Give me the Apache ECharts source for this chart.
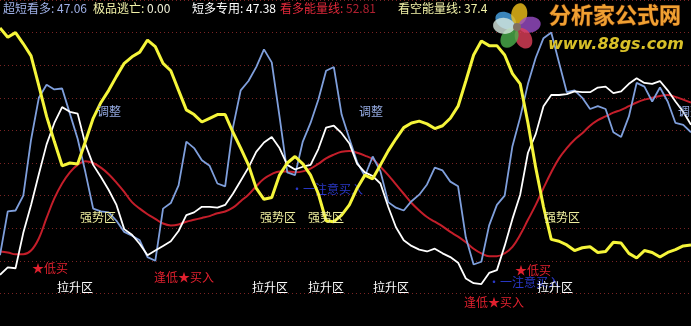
<!DOCTYPE html>
<html>
<head>
<meta charset="utf-8">
<script src="https://cdn.jsdelivr.net/npm/echarts@6/dist/echarts.min.js"></script>
<style>
html,body{margin:0;padding:0;background:#000;}
#c{width:691px;height:326px;}
</style>
</head>
<body>
<div id="c"></div>
<script>
// x categories (bars)
const categories = Array.from({length: 90}, (_, i) => String(i + 1));

// 看空能量线 (yellow)
const yellowLine = [320,310,315,303,290,258,225,198,172,175,174,198,223,240,253,268,282,289,294,307,300,282,274,253,232,227,219,223,227,227,208,191,173,148,136,138,162,175,182,174,162,142,113,112,119,130,148,162,158,173,188,201,213,218,220,217,212,215,223,236,263,291,306,301,301,291,271,260,218,170,128,93,91,87,81,84,85,79,80,90,89,78,73,81,79,74,79,82,86,87];

// 短多专用 (white)
const whiteLine = [55,63,62,100,130,163,195,218,235,230,228,195,173,160,146,130,104,98,88,76,81,86,91,102,119,122,128,128,127,130,142,156,170,187,197,203,191,173,168,171,173,190,213,215,207,196,174,165,161,153,128,106,92,86,82,80,83,78,74,68,51,46,45,57,60,86,115,141,186,206,236,248,248,249,252,251,251,256,257,250,252,260,266,261,260,263,253,241,230,216];

// 超短看多 (light blue)
const blueLine = [76,123,124,140,200,245,259,254,255,228,201,165,126,123,122,113,101,97,92,74,70,126,132,151,198,191,178,172,153,150,213,253,263,278,297,283,225,165,162,198,218,243,274,278,227,201,176,161,182,166,133,127,124,134,141,152,170,167,155,150,95,66,69,108,130,140,193,224,260,288,309,315,283,251,253,245,233,236,233,208,203,225,261,257,241,256,241,218,216,208];

// 看多能量线 (red)
const redLine = [80,79,77,77,81,94,116,137,153,165,173,177,175,170,163,154,144,133,126,120,115,110,108,109,112,114,116,118,121,123,127,134,141,150,158,163,166,166,165,166,169,174,180,184,187,188,186,183,179,171,162,152,142,132,124,117,112,107,101,96,90,83,78,75,75,78,85,98,114,130,148,165,180,191,200,207,215,221,225,229,232,236,240,243,245,247,248,246,243,240];

// header texts
const legendItems = [
  {label: '超短看多', value: '47.06'},
  {label: '极品逃亡', value: '0.00'},
  {label: '短多专用', value: '47.38'},
  {label: '看多能量线', value: '52.81'},
  {label: '看空能量线', value: '37.4'}
];

const chart = echarts.init(document.getElementById('c'), null, {renderer: 'canvas'});
const FONT = '"Noto Sans CJK SC", "Noto Sans", sans-serif';

function txt(x, y, text, color, extra) {
  return {
    type: 'text', x: x, y: y, z: 50,
    style: Object.assign({text: text, fill: color, font: '12px ' + FONT, textVerticalAlign: 'middle'}, extra || {})
  };
}

const legendX = [3, 93, 192, 280, 398];
const legendCol = [
  ['#9fb0e6', '#9fb0e6'],
  ['#f2f2a8', '#f2f2d8'],
  ['#ffffff', '#ffffff'],
  ['#e2283a', '#b02030'],
  ['#f2f2a8', '#f2f2a8']
];

const graphics = [];
legendItems.forEach((it, k) => {
  graphics.push({
    type: 'text', x: legendX[k], y: 8, z: 50,
    style: {
      text: '{a|' + it.label + ':} {b|' + it.value + '}',
      font: '12px ' + FONT,
      textVerticalAlign: 'middle',
      rich: {
        a: {fill: legendCol[k][0], font: '12px ' + FONT},
        b: {fill: legendCol[k][1], font: '12px ' + FONT}
      }
    }
  });
});

// flower logo
const fc = [517, 27];
const petals = [
  {a: -150, c: '#4aa6e8'},
  {a: -80, c: '#f2c21a'},
  {a: -10, c: '#9a4ec8'},
  {a: 60, c: '#e0405a'},
  {a: 125, c: '#4cb04c'},
  {a: 185, c: '#d8e8e0'}
];
petals.forEach(p => {
  const r = p.a * Math.PI / 180;
  graphics.push({
    type: 'ellipse', z: 40,
    x: fc[0] + 13 * Math.cos(r), y: fc[1] + 13 * Math.sin(r),
    rotation: -r,
    shape: {cx: 0, cy: 0, rx: 11, ry: 8},
    style: {fill: p.c, opacity: 0.8}
  });
});
graphics.push({type: 'circle', z: 41, shape: {cx: fc[0], cy: fc[1], r: 4}, style: {fill: '#807060'}});
graphics.push({
  type: 'text', x: 549, y: 15, z: 50,
  style: {text: '分析家公式网', fill: '#f0a032', stroke: '#5a2a08', lineWidth: 1,
    font: 'bold 22px ' + FONT, textVerticalAlign: 'middle'}
});
graphics.push({
  type: 'text', x: 548, y: 45, z: 50,
  style: {text: 'www.88gs.com', fill: '#d8c028',
    font: 'italic bold 16px "DejaVu Sans", sans-serif', textVerticalAlign: 'middle'}
});

// annotations
const LB = '#95abe2', LY = '#f0f0a0', RD = '#e0202e', DB = '#2a38c8';
[[97, 111], [359, 111], [678, 111]].forEach(p => graphics.push(txt(p[0], p[1], '调整', LB, {})));
[[80, 217], [260, 217], [308, 217], [544, 217]].forEach(p => graphics.push(txt(p[0], p[1], '强势区', LY)));
[[57, 287], [252, 287], [308, 287], [373, 287], [537, 287]].forEach(p => graphics.push(txt(p[0], p[1], '拉升区', '#ffffff')));
[[32, 268], [515, 270]].forEach(p => graphics.push(txt(p[0], p[1], '★低买', RD)));
[[154, 277], [464, 302]].forEach(p => graphics.push(txt(p[0], p[1], '逢低★买入', RD)));
[[291, 189], [488, 282]].forEach(p => graphics.push(Object.assign(txt(p[0], p[1], '•一注意买入', DB), {z: 5})));

function lineSeries(name, data, color, width, z, smooth) {
  return {
    name: name, type: 'line', data: data, symbol: 'none', smooth: smooth || false,
    z: z, clip: false,
    lineStyle: {color: color, width: width},
    emphasis: {disabled: true}
  };
}

chart.setOption({
  backgroundColor: '#000000',
  animation: false,
  grid: {left: 0, right: 0, top: -2, height: 350},
  xAxis: {
    type: 'category', data: categories, boundaryGap: false,
    axisLine: {show: false}, axisTick: {show: false}, axisLabel: {show: false}, splitLine: {show: false}
  },
  yAxis: {
    type: 'value', min: 0, max: 350, interval: 35,
    axisLine: {show: false}, axisTick: {show: false}, axisLabel: {show: false},
    splitLine: {show: true, lineStyle: {color: '#7a2424', type: [1, 3], width: 1}}
  },
  series: [
    lineSeries('看多能量线', redLine, '#c41e2a', 2, 10, 0.4),
    lineSeries('超短看多', blueLine, '#7f9fdc', 1.8, 11),
    lineSeries('短多专用', whiteLine, '#ffffff', 1.8, 12),
    lineSeries('看空能量线', yellowLine, '#f5f53a', 3, 13)
  ],
  graphic: graphics
});
</script>
</body>
</html>
